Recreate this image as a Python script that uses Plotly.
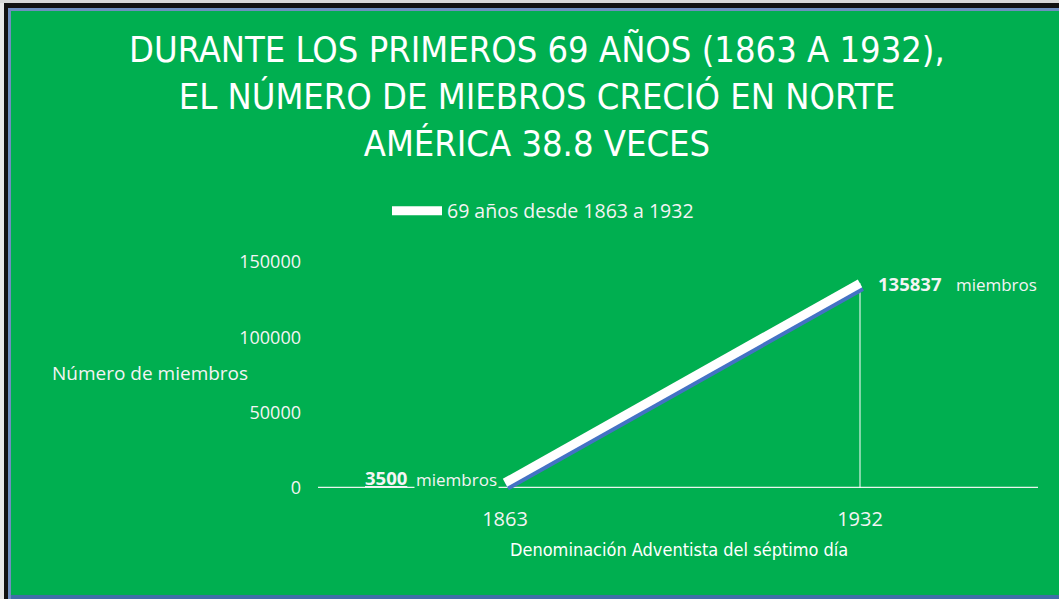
import plotly.graph_objects as go

# ---- data ----
years = [1863, 1932]
members = [3500, 135837]
y_ticks = [0, 50000, 100000, 150000]
y_ticktext = ["0", "50000", "100000", "150000"]
series_name = "69 años desde 1863 a 1932"
title_lines = ["DURANTE LOS PRIMEROS 69 AÑOS (1863 A 1932),",
               "EL NÚMERO DE MIEBROS CRECIÓ EN NORTE",
               "AMÉRICA 38.8 VECES"]
x_title = "Denominación Adventista del séptimo día"
y_title = "Número de miembros"
unit = "miembros"

W, H = 1059, 599
GREEN = "#00AF50"
TXT = "#F4F4F4"
FONT = "Liberation Sans Narrow, DejaVu Sans Condensed, Arial Narrow, sans-serif"
FONT2 = "Open Sans, Noto Sans, sans-serif"

def px(x):
    return x / W

def py(y):
    return 1 - y / H

# plot area in pixels
x0p, x1p = 318, 1038
y0p, y1p = 488, 262
k = (860 - 505) / (years[1] - years[0])
xa = years[0] - (505 - x0p) / k
xb = xa + (x1p - x0p) / k
xrange = [xa, xb]
yrange = [0, 150000]

fig = go.Figure()

# drop line (main axes, drawn first)
fig.add_trace(go.Scatter(x=[years[1], years[1]], y=[0, members[1]], mode="lines",
                         line=dict(color="rgba(255,255,255,0.85)", width=1.2),
                         showlegend=False, hoverinfo="skip"))
# blue shadow on a slightly offset axis pair
sdx, sdy = 2, 4
fig.add_trace(go.Scatter(x=years, y=members, mode="lines",
                         line=dict(color="#4472C4", width=8),
                         xaxis="x2", yaxis="y2", showlegend=False, hoverinfo="skip"))
# white main line on top (axis pair identical to the main one)
fig.add_trace(go.Scatter(x=years, y=members, mode="lines", name=series_name,
                         line=dict(color="white", width=9),
                         xaxis="x3", yaxis="y3"))

hidden = dict(visible=False, showgrid=False, zeroline=False)
fig.update_layout(
    width=W, height=H,
    margin=dict(l=0, r=0, t=0, b=0, pad=0),
    paper_bgcolor=GREEN, plot_bgcolor="rgba(0,0,0,0)",
    showlegend=True,
    legend=dict(orientation="h", x=px(387), y=py(211), xanchor="left", yanchor="middle",
                bgcolor="rgba(0,0,0,0)", font=dict(family=FONT2, size=19.5, color=TXT),
                itemwidth=50),
    xaxis=dict(domain=[px(x0p), px(x1p)], range=xrange, tickvals=years,
               ticktext=[str(v) for v in years], automargin=False,
               showgrid=False, zeroline=False, showline=False, ticks="",
               ticklabelstandoff=17,
               tickfont=dict(family=FONT2, size=20, color=TXT)),
    yaxis=dict(domain=[py(y0p), py(y1p)], range=yrange, tickvals=y_ticks,
               ticktext=y_ticktext, automargin=False,
               showgrid=False, zeroline=False, showline=False, ticks="",
               ticklabelstandoff=16,
               tickfont=dict(family=FONT2, size=18, color=TXT)),
    xaxis2=dict(domain=[px(x0p + sdx), px(x1p + sdx)], range=xrange, anchor="y2", **hidden),
    yaxis2=dict(domain=[py(y0p + sdy), py(y1p + sdy)], range=yrange, anchor="x2", **hidden),
    xaxis3=dict(domain=[px(x0p), px(x1p)], range=xrange, anchor="y3", **hidden),
    yaxis3=dict(domain=[py(y0p), py(y1p)], range=yrange, anchor="x3", **hidden),
)

# x axis line
fig.add_shape(type="line", xref="paper", yref="y", x0=px(x0p), x1=px(x1p), y0=0, y1=0,
              line=dict(color="#EAF5EE", width=2.5), layer="below")

# frame
fig.add_shape(type="rect", xref="paper", yref="paper", x0=0, x1=1, y0=py(H), y1=py(595),
              fillcolor="#3F6FA8", line_width=0, layer="below")
fig.add_shape(type="rect", xref="paper", yref="paper", x0=0, x1=1, y0=py(8), y1=py(11),
              fillcolor="#6F8FC0", line_width=0, layer="below")
fig.add_shape(type="rect", xref="paper", yref="paper", x0=0, x1=1, y0=py(3), y1=py(8),
              fillcolor="#111111", line_width=0, layer="below")
fig.add_shape(type="rect", xref="paper", yref="paper", x0=0, x1=1, y0=py(0), y1=py(3),
              fillcolor="#D8D8D8", line_width=0, layer="below")
fig.add_shape(type="rect", xref="paper", yref="paper", x0=px(8), x1=px(11), y0=py(H), y1=py(8),
              fillcolor="#6F8FC0", line_width=0, layer="below")
fig.add_shape(type="rect", xref="paper", yref="paper", x0=px(4), x1=px(8), y0=py(H), y1=py(3),
              fillcolor="#111111", line_width=0, layer="below")
fig.add_shape(type="rect", xref="paper", yref="paper", x0=0, x1=px(4), y0=py(H), y1=py(3),
              fillcolor="#E8E8E8", line_width=0, layer="below")

# title
fig.add_annotation(xref="paper", yref="paper", x=px(537), y=py(96), xanchor="center",
                   yanchor="middle", showarrow=False, align="center",
                   text="<br>".join(title_lines),
                   font=dict(family=FONT, size=36, color="white"))

# axis titles
fig.add_annotation(xref="paper", yref="paper", x=px(679), y=py(549), xanchor="center",
                   yanchor="middle", showarrow=False,
                   text=x_title, font=dict(family=FONT, size=18, color="white"))
fig.add_annotation(xref="paper", yref="paper", x=px(50), y=py(373), xanchor="left",
                   yanchor="middle", showarrow=False, text=y_title,
                   font=dict(family=FONT2, size=19, color=TXT))

# value labels
fig.add_annotation(x=years[0], y=members[0], xref="x", yref="y", xanchor="right",
                   yanchor="bottom", xshift=-96, yshift=-9, showarrow=False,
                   text=f"<b><u>{members[0]}</u></b>",
                   font=dict(family=FONT2, size=18.5, color=TXT))
fig.add_annotation(x=years[0], y=members[0], xref="x", yref="y", xanchor="right",
                   yanchor="bottom", xshift=-6, yshift=-10, showarrow=False,
                   bgcolor=GREEN, text=unit,
                   font=dict(family=FONT2, size=17, color=TXT))
fig.add_annotation(x=years[1], y=members[1], xref="x", yref="y", xanchor="left",
                   yanchor="middle", xshift=16, yshift=0, showarrow=False,
                   text=f"<b>{members[1]}</b>&nbsp;&nbsp; <span style='font-size:17px'>{unit}</span>",
                   font=dict(family=FONT2, size=18.5, color=TXT))

fig.write_html("out.html", config={"displayModeBar": False},
               post_script="document.body.style.margin='0';document.body.style.overflow='hidden';")
